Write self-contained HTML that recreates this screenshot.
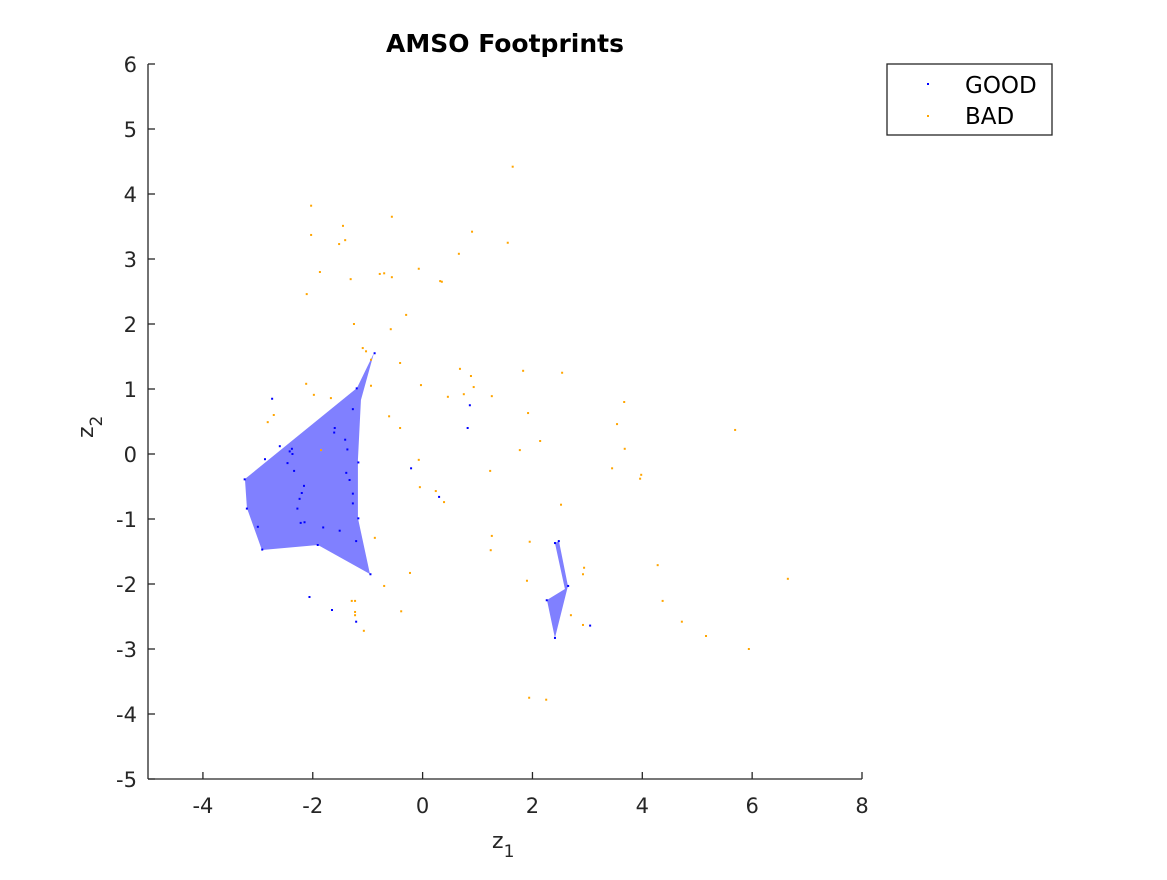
<!DOCTYPE html>
<html><head><meta charset="utf-8"><style>
body{margin:0;background:#fff}
svg{font-family:"DejaVu Sans","Liberation Sans",sans-serif}
</style></head><body>
<svg id="chart" width="1167" height="875" viewBox="0 0 1167 875">
<rect width="1167" height="875" fill="#fff"/>
<g id="regions"></g><g id="points"></g><g id="axes"></g>
<text x="505" y="52" text-anchor="middle" font-weight="bold" font-size="25" fill="#000">AMSO Footprints</text>
<text x="492" y="848" font-size="22" fill="#262626">z<tspan font-size="17" dy="9">1</tspan></text>
<text transform="translate(93,438) rotate(-90)" font-size="22" fill="#262626">z<tspan font-size="17" dy="9">2</tspan></text>
<g>
<rect x="887" y="64" width="165" height="71" fill="#fff" stroke="#262626" stroke-width="1.3"/>
<rect x="927" y="83" width="2" height="2" fill="#0000ff"/>
<text x="965" y="93" font-size="23" fill="#000">GOOD</text>
<rect x="927" y="115" width="2" height="2" fill="#ffa500"/>
<text x="965" y="124" font-size="23" fill="#000">BAD</text>
</g>
</svg>
<script>
const xTicks=[-4,-2,0,2,4,6,8];
const yTicks=[-5,-4,-3,-2,-1,0,1,2,3,4,5,6];
const region1X=[-3.235,-1.196,-0.886,-1.123,-1.178,-1.178,-0.959,-1.906,-2.926,-3.199];
const region1Y=[-0.385,1.015,1.554,0.831,-0.092,-0.985,-1.846,-1.40,-1.477,-0.831];
const region2X=[2.409,2.482,2.646,2.409,2.264,2.591];
const region2Y=[-1.369,-1.338,-2.031,-2.831,-2.246,-2.077];
const goodX=[-0.874,-1.20,-2.74,-1.27,-1.60,-1.61,-1.41,-2.60,-2.38,-2.42,-2.37,-1.37,-2.87,-1.17,-2.46,-2.34,-1.39,-1.33,-3.24,-2.16,-2.20,-2.24,-1.27,-1.27,-2.28,-3.20,-1.17,-2.15,-2.22,-1.81,-3.00,-1.51,-1.21,-1.91,-2.92,-0.95,-2.06,-1.65,-1.21,-0.21,0.30,0.86,0.82,2.41,2.48,2.65,2.26,2.41,3.05];
const goodY=[1.55,1.01,0.85,0.69,0.40,0.33,0.22,0.12,0.08,0.04,0.00,0.07,-0.08,-0.13,-0.14,-0.26,-0.29,-0.40,-0.39,-0.49,-0.60,-0.69,-0.61,-0.76,-0.84,-0.84,-0.99,-1.05,-1.06,-1.13,-1.12,-1.18,-1.34,-1.40,-1.47,-1.85,-2.20,-2.40,-2.58,-0.22,-0.66,0.75,0.40,-1.37,-1.34,-2.03,-2.25,-2.83,-2.64];
const badX=[1.64,-2.03,-0.56,-1.45,-2.03,0.90,-1.41,-1.52,1.55,0.66,-1.87,-0.78,-0.70,-1.31,-0.56,-0.07,0.32,0.35,-2.11,-0.30,-1.25,-0.58,-1.09,-1.03,-0.94,-0.41,0.68,1.83,2.54,-0.94,-0.03,0.88,0.93,-2.12,-1.98,-1.67,0.75,0.46,1.26,-2.71,-2.82,-0.61,1.92,3.67,3.54,5.69,-0.41,2.14,-1.85,1.77,3.68,-0.07,3.45,3.98,3.96,1.23,-0.05,0.24,0.39,2.52,-0.87,1.26,1.24,1.95,2.94,2.92,4.28,6.65,-0.23,-0.70,1.90,-1.29,-1.23,4.37,-1.23,-1.23,-0.39,2.70,2.92,4.72,-1.07,5.16,5.94,1.94,2.25];
const badY=[4.42,3.82,3.65,3.51,3.37,3.42,3.29,3.23,3.25,3.08,2.80,2.77,2.78,2.69,2.72,2.85,2.66,2.65,2.46,2.14,2.00,1.92,1.63,1.58,1.45,1.40,1.31,1.28,1.25,1.05,1.06,1.20,1.03,1.08,0.91,0.86,0.92,0.88,0.89,0.60,0.49,0.58,0.63,0.80,0.46,0.37,0.40,0.20,0.06,0.06,0.08,-0.09,-0.22,-0.32,-0.38,-0.26,-0.51,-0.57,-0.74,-0.78,-1.29,-1.26,-1.48,-1.35,-1.75,-1.85,-1.71,-1.92,-1.83,-2.03,-1.95,-2.26,-2.26,-2.26,-2.43,-2.48,-2.42,-2.48,-2.63,-2.58,-2.72,-2.80,-3.00,-3.75,-3.78];

const NS='http://www.w3.org/2000/svg';
const X0=148,X1=862,Y0=779,Y1=64,xmin=-5,xmax=8,ymin=-5,ymax=6;
function sx(v){return X0+(v-xmin)/(xmax-xmin)*(X1-X0);}
function sy(v){return Y0-(v-ymin)/(ymax-ymin)*(Y0-Y1);}
function mk(t,a,p){const e=document.createElementNS(NS,t);for(const k in a)e.setAttribute(k,a[k]);p.appendChild(e);return e;}
const gR=document.getElementById('regions'),gP=document.getElementById('points'),gA=document.getElementById('axes');
function poly(xs,ys,name){
  const pts=xs.map((x,i)=>sx(x)+','+sy(ys[i])).join(' ');
  const el=mk('polygon',{points:pts,fill:'#8080ff',stroke:'none'},gR);
  
  
}
poly(region1X,region1Y,'good-footprint-1');
poly(region2X,region2Y,'good-footprint-2');
badX.forEach((x,i)=>{
  const el=mk('rect',{x:sx(x)-1,y:sy(badY[i])-1,width:2,height:2,fill:'#ffa500'},gP);
  
  
});
goodX.forEach((x,i)=>{
  const el=mk('rect',{x:sx(x)-1,y:sy(goodY[i])-1,width:2,height:2,fill:'#0000ff'},gP);
  
  
});
let el=mk('line',{x1:X0,y1:Y0,x2:X1,y2:Y0,stroke:'#262626','stroke-width':1.3},gA);


el=mk('line',{x1:X0,y1:Y0,x2:X0,y2:Y1,stroke:'#262626','stroke-width':1.3},gA);


xTicks.forEach(t=>{
  const x=sx(t);
  mk('line',{x1:x,y1:Y0,x2:x,y2:Y0-7,stroke:'#262626','stroke-width':1.3},gA);
  const tx=mk('text',{x:x,y:Y0+34,'text-anchor':'middle','font-size':21,fill:'#262626'},gA);
  tx.textContent=t;
  
  
});
yTicks.forEach(t=>{
  const y=sy(t);
  mk('line',{x1:X0,y1:y,x2:X0+7,y2:y,stroke:'#262626','stroke-width':1.3},gA);
  const tx=mk('text',{x:X0-11,y:y+8,'text-anchor':'end','font-size':21,fill:'#262626'},gA);
  tx.textContent=t;
  
  
});
</script>
</body></html>
